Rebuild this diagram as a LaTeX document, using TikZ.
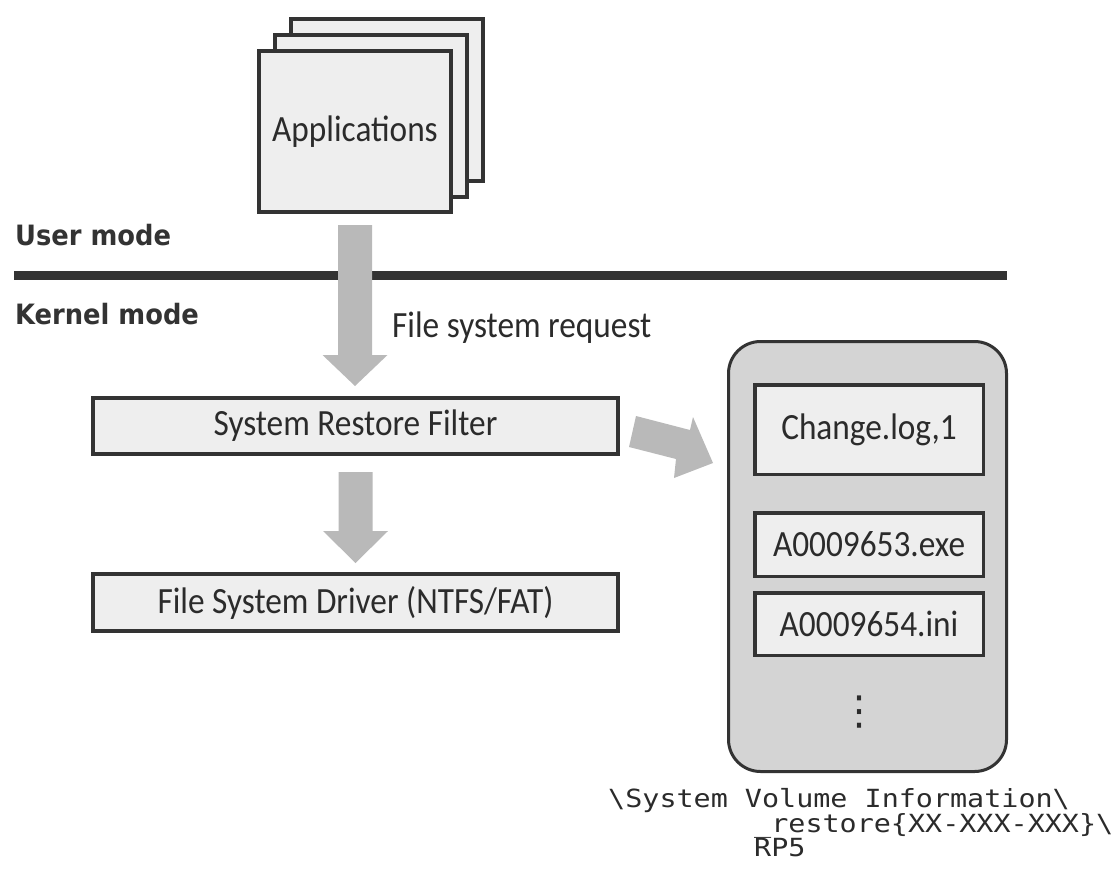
\documentclass[tikz,border=0pt]{standalone}
\usepackage{fontspec}
\setmainfont{Carlito}[FakeStretch=0.9]
\newfontfamily\lblfont{DejaVu Sans}[FakeStretch=0.92]
\newfontfamily\pathfont{DejaVu Sans Mono}[FakeStretch=1.136]
\newfontfamily\symfont{DejaVu Sans}
\usetikzlibrary{calc}
\definecolor{ink}{HTML}{333333}
\definecolor{boxfill}{HTML}{EEEEEE}
\definecolor{arrowgray}{HTML}{B9B9B9}
\definecolor{storefill}{HTML}{D4D4D4}
\definecolor{txt}{HTML}{2B2B2B}
\begin{document}
\begin{tikzpicture}[x=1pt,y=-1pt,
  box/.style={draw=ink,fill=boxfill,line width=4pt,inner sep=0pt,text=txt,font=\fontsize{37}{40}\selectfont},
  appbox/.style={box,minimum width=192pt,minimum height=161pt},
  layerbox/.style={box,minimum width=525pt,minimum height=56pt},
  filebox/.style={draw=ink,fill=boxfill,line width=3.5pt,inner sep=0pt,minimum width=228.5pt,text=txt,font=\fontsize{37}{40}\selectfont},
  fat/.style={fill=arrowgray},
  modelabel/.style={anchor=base west,inner sep=0pt,text=ink,font=\lblfont\bfseries\fontsize{28}{30}\selectfont},
  plain/.style={anchor=base west,inner sep=0pt,text=txt,font=\fontsize{37}{40}\selectfont},
  pathtext/.style={anchor=base west,inner sep=0pt,text=txt,font=\pathfont\fontsize{25}{26}\selectfont}]
\useasboundingbox (0,0) rectangle (1118,880);

% application stack
\node[appbox] (app3) at (387,100) {};
\node[appbox] (app2) at (370.5,116) {};
\node[appbox] (apps) at (355,131.5) {Applications};

% mode labels and separator
\node[modelabel] (user) at (15,245) {User mode};
\coordinate (sepL) at (14,275.5);
\coordinate (sepR) at (1007,275.5);
\draw[ink,line width=9pt] (sepL) -- (sepR);
\node[modelabel] (kernel) at (15,324) {Kernel mode};

% layers
\node[layerbox] (filter) at (355.5,426) {System Restore Filter};
\node[layerbox,minimum height=57pt] (driver) at (355.5,602.5) {File System Driver (NTFS/FAT)};

% request arrow
\fill[fat,shift={(apps.south)}] (-17,11) -- (17,11) -- (17,141) -- (32.5,141) -- (0,172) -- (-32.5,141) -- (-17,141) -- cycle;
\node[plain] (req) at (392,337) {File system request};

% filter -> driver arrow
\fill[fat,shift={(filter.south)}] (-17,16) -- (17,16) -- (17,75) -- (32.5,75) -- (0,107) -- (-32.5,75) -- (-17,75) -- cycle;

% restore store
\node[draw=ink,fill=storefill,line width=3pt,rounded corners=32pt,minimum width=278pt,minimum height=430pt] (store) at (867.5,556.5) {};
\node[filebox,minimum height=89.5pt] (log) at (869,429.5) {Change.log,1};
\node[filebox,minimum height=63.5pt] (exe) at (869,544.5) {A0009653.exe};
\node[filebox,minimum height=62.5pt] (ini) at (869,624) {A0009654.ini};
\node[font=\symfont\fontsize{40}{40}\selectfont,text=txt,inner sep=0pt] (dots) at (859,712) {⋮};

% filter -> store arrow
\fill[fat,shift={(filter.east)}] (16,-10) -- (70,4) -- (73,-9) -- (93,37) -- (54,52) -- (56,33) -- (9,21) -- cycle;

% path label
\node[pathtext] (p1) at (608,807) {\textbackslash System Volume Information\textbackslash};
\node[pathtext] (p2) at (754,832) {\_restore\{XX-XXX-XXX\}\textbackslash};
\node[pathtext] (p3) at (754,856) {RP5};
\end{tikzpicture}
\end{document}
